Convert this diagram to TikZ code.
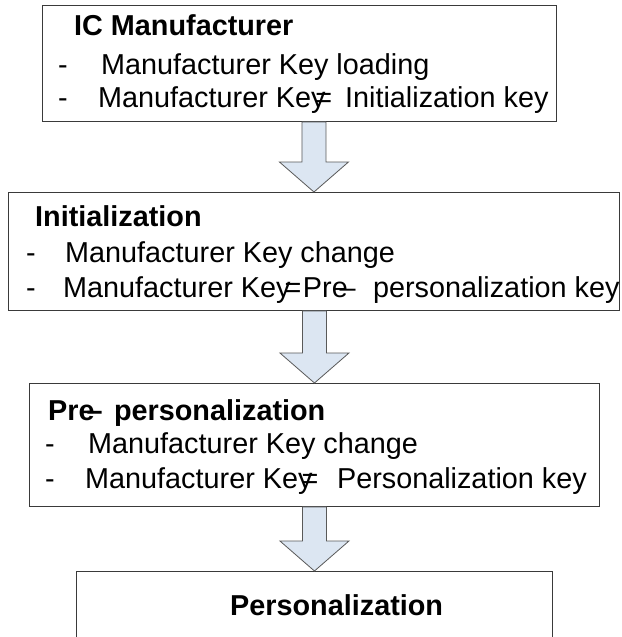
\documentclass[tikz,border=0pt]{standalone}
\usepackage{fontspec}
\setmainfont{Liberation Sans}
\usetikzlibrary{calc}
\definecolor{arrowfill}{HTML}{DCE6F2}
\definecolor{edgegray}{HTML}{3A3A3A}
\tikzset{
  box/.style={draw=edgegray, line width=0.9pt, anchor=north west, inner sep=0pt},
  txt/.style={anchor=base west, inner sep=0pt, font=\fontsize{28.8}{34}\selectfont},
  ttl/.style={anchor=base west, inner sep=0pt, font=\fontsize{28.8}{34}\selectfont\bfseries},
  barrow/.style={draw=black!65, fill=arrowfill, line width=0.8pt, line join=miter},
}
\newcommand\blockarrow[2]{%
  \draw[barrow] let \p1=(#2.north), \p2=(#1.south) in
   (\x1-12pt,\y2) -- (\x1+12pt,\y2) -- (\x1+12pt,\y1+30pt) -- (\x1+34.5pt,\y1+30pt)
   -- (\x1,\y1) -- (\x1-34.5pt,\y1+30pt) -- (\x1-12pt,\y1+30pt) -- cycle;}
\begin{document}
\begin{tikzpicture}[x=1pt,y=-1pt]
\clip (0,0) rectangle (621,637);
\fill[white] (0,0) rectangle (621,637);
% boxes
\node[box, minimum width=514pt, minimum height=116pt] (b1) at (42,5) {};
\node[box, minimum width=611pt, minimum height=118pt] (b2) at (8,192) {};
\node[box, minimum width=570pt, minimum height=123pt] (b3) at (29,383) {};
\node[box, minimum width=476pt, minimum height=110pt] (b4) at (76,571) {};
% arrows
\blockarrow{b1}{b2}
\blockarrow{b2}{b3}
\blockarrow{b3}{b4}
% box 1 text
\node[ttl] (t1) at (74,35) {IC Manufacturer};
\node[txt] (d12) at (58,74) {-};
\node[txt] (l12) at (101,74) {Manufacturer Key loading};
\node[txt] (d13) at (58,107) {-};
\node[txt] (l13) at (98,107) {Manufacturer Key\kern-0.35em=\hspace{0.45em}Initialization key};
% box 2 text
\node[ttl] (t2) at (35,226) {Initialization};
\node[txt] (d22) at (26,262) {-};
\node[txt] (l22) at (65,262) {Manufacturer Key change};
\node[txt] (d23) at (26,297) {-};
\node[txt] (l23) at (63,297) {Manufacturer Key\kern-0.2em=\hspace{0.05em}Pre\kern-0.28em\textendash\hspace{0.6em}personalization key};
% box 3 text
\node[ttl] (t3) at (48,420) {Pre\kern-0.28em\textendash\hspace{0.4em}personalization};
\node[txt] (d32) at (45,453) {-};
\node[txt] (l32) at (88,453) {Manufacturer Key change};
\node[txt] (d33) at (45,488) {-};
\node[txt] (l33) at (85,488) {Manufacturer Key\kern-0.38em=\hspace{0.65em}Personalization key};
% box 4 text
\node[ttl] (t4) at (230,615) {Personalization};
\end{tikzpicture}
\end{document}
